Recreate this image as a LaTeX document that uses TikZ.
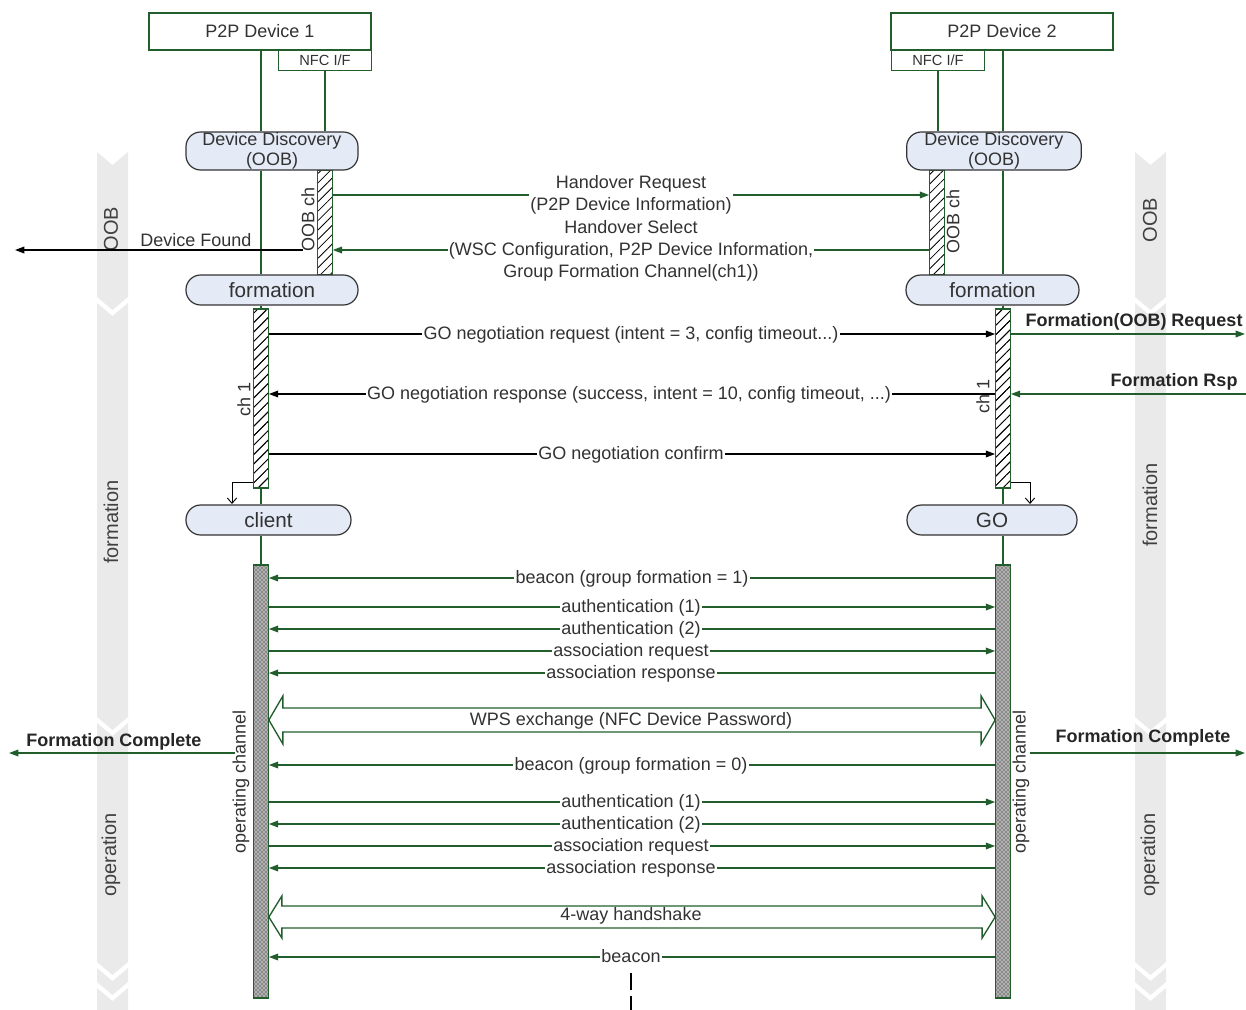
\documentclass[tikz,border=0pt]{standalone}
\usepackage{fontspec}
\setmainfont{Liberation Sans}
\usetikzlibrary{arrows.meta,patterns,patterns.meta,calc}
\definecolor{dg}{RGB}{34,94,44}
\definecolor{pillblue}{RGB}{228,234,246}
\definecolor{bandgray}{RGB}{234,234,234}
\definecolor{txt}{RGB}{50,50,50}
\newcommand{\chevseg}[4]{% x1 x2 ytop ybot
  \fill[bandgray] (#1,#3) -- ({(#1+#2)/2},#3+13) -- (#2,#3) -- (#2,#4) -- ({(#1+#2)/2},#4+13) -- (#1,#4) -- cycle;}
\begin{document}
\begin{tikzpicture}[x=0.75pt,y=-0.75pt,
  every node/.style={font=\fontsize{13.5}{16.5}\selectfont, text=txt},
  devbox/.style={draw=dg, line width=1pt, fill=white, minimum width=166.5pt, minimum height=27.75pt, inner sep=0pt},
  nfcbox/.style={draw=dg, line width=1pt, fill=white, minimum width=69.75pt, minimum height=15pt, inner sep=0pt, font=\fontsize{11}{12}\selectfont},
  pill/.style={draw=black!80, line width=0.9pt, fill=pillblue, rounded corners=11pt, inner sep=0pt, align=center},
  hatchbar/.style={draw=dg, line width=0.8pt, pattern={Lines[angle=45,distance=5pt,line width=0.6pt]}, minimum width=11pt, inner sep=0pt},
  opbar/.style={draw=dg, line width=0.8pt, preaction={fill=gray!60}, pattern=crosshatch dots, minimum width=11pt, inner sep=0pt},
  life/.style={draw=dg, line width=1pt},
  gmsg/.style={draw=dg, line width=1pt, -{Triangle[length=7pt,width=5pt]}},
  bmsg/.style={draw=black, line width=1pt, -{Triangle[length=7pt,width=5pt]}},
  lbl/.style={fill=white, inner sep=1pt, text height=9.5pt, text depth=3pt, yshift=-1.2pt},
  dbl/.style={draw=dg, line width=1pt, fill=white},
  bandtxt/.style={rotate=90, font=\fontsize{15}{17}\selectfont, text=black!75},
  side/.style={font=\fontsize{13.5}{16}\selectfont\bfseries, text=black!85},
  rot/.style={rotate=90, inner sep=0pt},
  tick/.style={draw=black, line width=0.7pt, -{Straight Barb[length=4pt,width=7pt]}}
]
\useasboundingbox (0,0) rectangle (1246,1010);

% ---- background chevron bands ----
\chevseg{97}{128}{152}{297}
\chevseg{97}{128}{303}{717}
\chevseg{97}{128}{723}{962}
\chevseg{97}{128}{968}{982}
\chevseg{97}{128}{988}{1030}
\chevseg{1135}{1166}{152}{297}
\chevseg{1135}{1166}{303}{717}
\chevseg{1135}{1166}{723}{962}
\chevseg{1135}{1166}{968}{982}
\chevseg{1135}{1166}{988}{1030}
\node[bandtxt] (bOOBl) at (111,229) {OOB};
\node[bandtxt] (bFl) at (111,522) {formation};
\node[bandtxt] (bOl) at (111,855) {operation};
\node[bandtxt] (bOOBr) at (1150,220) {OOB};
\node[bandtxt] (bFr) at (1150,505) {formation};
\node[bandtxt] (bOr) at (1150,855) {operation};

% ---- device boxes ----
\node[devbox] (dev1) at (260,31.5) {P2P Device 1};
\node[nfcbox, anchor=north] (nfc1) at (325,50) {NFC I/F};
\node[devbox] (dev2) at (1002,31.5) {P2P Device 2};
\node[nfcbox, anchor=north] (nfc2) at (938,50) {NFC I/F};

% ---- bars ----
\node[hatchbar, minimum height=78.75pt] (oobL) at (325,222.5) {};
\node[hatchbar, minimum height=78.75pt] (oobR) at (937,222.5) {};
\node[hatchbar, minimum height=134.25pt] (ch1L) at (261,398.5) {};
\node[hatchbar, minimum height=134.25pt] (ch1R) at (1003,398.5) {};
\node[opbar, minimum height=324.75pt] (opL) at (261,781.5) {};
\node[opbar, minimum height=324.75pt] (opR) at (1003,781.5) {};

% ---- pills ----
\node[pill, minimum width=129pt, minimum height=28.5pt, font=\fontsize{13.5}{14.5}\selectfont] (dd1) at (272,151) {Device Discovery\\(OOB)};
\node[pill, minimum width=131pt, minimum height=28.5pt, font=\fontsize{13.5}{14.5}\selectfont] (dd2) at (994,151) {Device Discovery\\(OOB)};
\node[pill, minimum width=129pt, minimum height=22.5pt, font=\fontsize{15.5}{17}\selectfont] (fo1) at (272,290) {formation};
\node[pill, minimum width=129.75pt, minimum height=22.5pt, font=\fontsize{15.5}{17}\selectfont] (fo2) at (992.5,290) {formation};
\node[pill, minimum width=123.75pt, minimum height=22.5pt, font=\fontsize{15.5}{17}\selectfont] (cl) at (268.5,520) {client};
\node[pill, minimum width=127.5pt, minimum height=22.5pt, font=\fontsize{15.5}{17}\selectfont] (go) at (992,520) {GO};

% ---- lifelines ----
\draw[life] (dev1.south -| ch1L.center) -- (dd1.north -| ch1L.center);
\draw[life] (nfc1.south) -- (dd1.north -| nfc1.south);
\draw[life] (dd1.south -| ch1L.center) -- (fo1.north -| ch1L.center);
\draw[life] (fo1.south -| ch1L.center) -- (ch1L.north);
\draw[life] (ch1L.south) -- (cl.north -| ch1L.center);
\draw[life] (cl.south -| opL.center) -- (opL.north);
\draw[life] (dev2.south -| ch1R.center) -- (dd2.north -| ch1R.center);
\draw[life] (nfc2.south) -- (dd2.north -| nfc2.south);
\draw[life] (dd2.south -| ch1R.center) -- (fo2.north -| ch1R.center);
\draw[life] (fo2.south -| ch1R.center) -- (ch1R.north);
\draw[life] (ch1R.south) -- (go.north -| ch1R.center);
\draw[life] (go.south -| opR.center) -- (opR.north);
% redraw bars over lifelines
\node[hatchbar, minimum height=134.25pt] at (ch1L) {};
\node[hatchbar, minimum height=134.25pt] at (ch1R) {};
\node[opbar, minimum height=324.75pt] at (opL) {};
\node[opbar, minimum height=324.75pt] at (opR) {};

% ---- bar labels ----
\node[rot] (oobtL) at (308,219) {OOB ch};
\node[rot] (oobtR) at (953,221) {OOB ch};
\node[rot] (ch1tL) at (244,399) {ch 1};
\node[rot] (ch1tR) at (983,396) {ch 1};
\node[rot] (optL) at (241,782) {operating channel};
\node[rot] (optR) at (1021,782) {operating channel};

% ---- OOB messages ----
\draw[gmsg] (oobL.east |- 0,195) -- (oobR.west |- 0,195);
\draw[gmsg] (oobR.west |- 0,250) -- (oobL.east |- 0,250);
\node[fill=white, inner sep=1pt, align=center] (hreq) at (631,195) {Handover Request\\(P2P Device Information)};
\node[fill=white, inner sep=1pt, align=center] (hsel) at (631,250.5) {Handover Select\\(WSC Configuration, P2P Device Information,\\Group Formation Channel(ch1))};

\coordinate (dfs) at (303,250);
\coordinate (dfe) at (15,250);
\draw[bmsg] (dfs) -- (dfe);
\node (dflbl) at (196,240) {Device Found};

% ---- GO negotiation ----
\draw[bmsg] (ch1L.east |- 0,334) -- (ch1R.west |- 0,334);
\node[lbl] (m1) at (631,334) {GO negotiation request (intent = 3, config timeout...)};
\draw[bmsg] (ch1R.west |- 0,394) -- (ch1L.east |- 0,394);
\node[lbl] (m2) at (629,394) {GO negotiation response (success, intent = 10, config timeout, ...)};
\draw[bmsg] (ch1L.east |- 0,454) -- (ch1R.west |- 0,454);
\node[lbl] (m3) at (631,454) {GO negotiation confirm};

% state transition ticks
\coordinate (tk1) at (232,504);
\coordinate (tk2) at (1030,504);
\draw[tick] (ch1L.west |- 0,482) -| (tk1);
\draw[tick] (ch1R.east |- 0,482) -| (tk2);

% ---- side arrows ----
\coordinate (fre) at (1245,334);
\draw[gmsg] (ch1R.east |- 0,334) -- (fre);
\node[side] (frl) at (1134,322) {Formation(OOB) Request};
\coordinate (frs) at (1246,394);
\draw[gmsg] (frs) -- (ch1R.east |- 0,394);
\node[side] (frsl) at (1174,382) {Formation Rsp};

\coordinate (fcl0) at (235,753);
\coordinate (fcl1) at (9,753);
\draw[gmsg] (fcl0) -- (fcl1);
\node[side] (fcll) at (114,742) {Formation Complete};
\coordinate (fcr0) at (1030,753);
\coordinate (fcr1) at (1245,753);
\draw[gmsg] (fcr0) -- (fcr1);
\node[side] (fcrl) at (1143,738) {Formation Complete};

% ---- operating channel messages ----
\draw[gmsg] (opR.west |- 0,578) -- (opL.east |- 0,578);
\node[lbl] at (632,578) {beacon (group formation = 1)};
\draw[gmsg] (opL.east |- 0,607) -- (opR.west |- 0,607);
\node[lbl] at (631,607) {authentication (1)};
\draw[gmsg] (opR.west |- 0,629) -- (opL.east |- 0,629);
\node[lbl] at (631,629) {authentication (2)};
\draw[gmsg] (opL.east |- 0,651) -- (opR.west |- 0,651);
\node[lbl] at (631,651) {association request};
\draw[gmsg] (opR.west |- 0,673) -- (opL.east |- 0,673);
\node[lbl] at (631,673) {association response};

\draw[dbl] (opL.east |- 0,720) -- ++(14,-24) -- ++(0,12) -- ($(opR.west |- 0,708)+(-14,0)$) -- ++(0,-12) -- (opR.west |- 0,720) -- ++(-14,24) -- ++(0,-12) -- ($(opL.east |- 0,732)+(14,0)$) -- ++(0,12) -- cycle;
\node (wps) at (631,721) {WPS exchange (NFC Device Password)};

\draw[gmsg] (opR.west |- 0,765) -- (opL.east |- 0,765);
\node[lbl] at (631,765) {beacon (group formation = 0)};
\draw[gmsg] (opL.east |- 0,802) -- (opR.west |- 0,802);
\node[lbl] at (631,802) {authentication (1)};
\draw[gmsg] (opR.west |- 0,824) -- (opL.east |- 0,824);
\node[lbl] at (631,824) {authentication (2)};
\draw[gmsg] (opL.east |- 0,846) -- (opR.west |- 0,846);
\node[lbl] at (631,846) {association request};
\draw[gmsg] (opR.west |- 0,868) -- (opL.east |- 0,868);
\node[lbl] at (631,868) {association response};

\draw[dbl] (opL.east |- 0,917) -- ++(13,-21) -- ++(0,10) -- ($(opR.west |- 0,906)+(-13,0)$) -- ++(0,-10) -- (opR.west |- 0,917) -- ++(-13,21) -- ++(0,-10) -- ($(opL.east |- 0,928)+(13,0)$) -- ++(0,10) -- cycle;
\node (hs) at (631,916) {4-way handshake};

\draw[gmsg] (opR.west |- 0,957) -- (opL.east |- 0,957);
\node[lbl] at (631,957) {beacon};

\coordinate (d0) at (631,973);
\coordinate (d1) at (631,1012);
\draw[black, line width=1pt, dash pattern=on 12.5pt off 5pt] (d0) -- (d1);
\end{tikzpicture}
\end{document}
